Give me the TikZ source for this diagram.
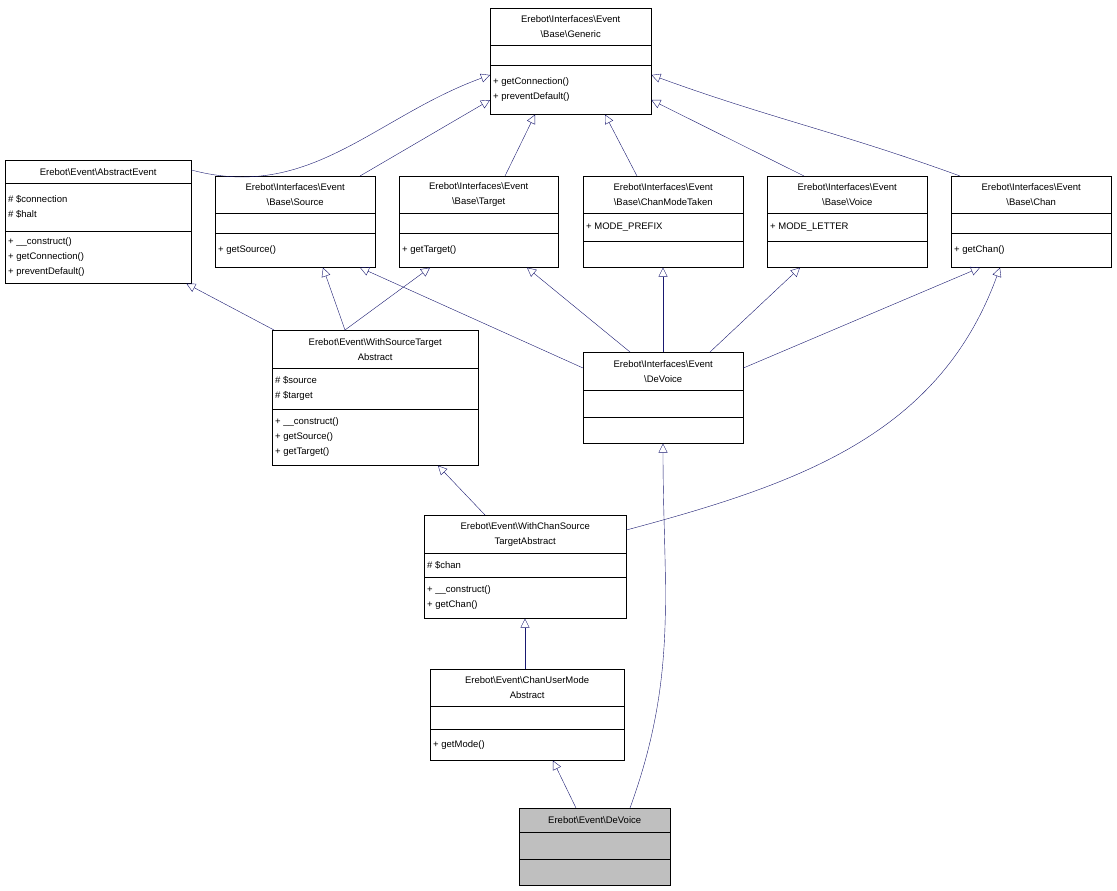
\documentclass[tikz,border=0pt]{standalone}
\usepackage{fontspec}
\setmainfont{Liberation Sans}
\usetikzlibrary{shapes.multipart,arrows.meta}
\newcommand{\bs}{\textbackslash}
\newcommand{\tpart}[3]{\parbox[c][#2pt][c]{#1pt}{\centering #3}}
\newcommand{\lpart}[3]{\parbox[c][#2pt][c]{#1pt}{\raggedright #3}}
\definecolor{edgeblue}{RGB}{25,25,112}
\begin{document}
\begin{tikzpicture}[
x=1pt,y=-1pt,
cls/.style={
  draw,
  rectangle split,
  rectangle split parts=3,
  anchor=north west,
  inner xsep=3pt,
  inner ysep=0pt,
  font=\fontsize{9.5}{15}\selectfont,
  fill=white
  },
inh/.style={
  draw=edgeblue,
  -{Triangle[open,length=9pt,width=9pt]}
  },
]
\useasboundingbox (0,0) rectangle (1117,891);

\node[cls] (gen) at (490,8)
  {\tpart{155}{37}{Erebot\bs Interfaces\bs Event\\\bs Base\bs Generic}
   \nodepart{two}\lpart{155}{19}{}
   \nodepart{three}\lpart{155}{49}{+ getConnection()\\+ preventDefault()}};
\node[cls] (abs) at (5,160)
  {\tpart{180}{23}{Erebot\bs Event\bs AbstractEvent}
   \nodepart{two}\lpart{180}{47}{\# \$connection\\\# \$halt}
   \nodepart{three}\lpart{180}{52}{+ \_\_construct()\\+ getConnection()\\+ preventDefault()}};
\node[cls] (src) at (215,176)
  {\tpart{154}{37}{Erebot\bs Interfaces\bs Event\\\bs Base\bs Source}
   \nodepart{two}\lpart{154}{19}{}
   \nodepart{three}\lpart{154}{34}{+ getSource()}};
\node[cls] (tgt) at (399,176)
  {\tpart{153}{37}{Erebot\bs Interfaces\bs Event\\\bs Base\bs Target}
   \nodepart{two}\lpart{153}{19}{}
   \nodepart{three}\lpart{153}{34}{+ getTarget()}};
\node[cls] (cmt) at (583,176)
  {\tpart{154}{37}{Erebot\bs Interfaces\bs Event\\\bs Base\bs ChanModeTaken}
   \nodepart{two}\lpart{154}{27}{+ MODE\_PREFIX}
   \nodepart{three}\lpart{154}{26}{}};
\node[cls] (voice) at (767,176)
  {\tpart{154}{37}{Erebot\bs Interfaces\bs Event\\\bs Base\bs Voice}
   \nodepart{two}\lpart{154}{27}{+ MODE\_LETTER}
   \nodepart{three}\lpart{154}{26}{}};
\node[cls] (chan) at (951,176)
  {\tpart{154}{37}{Erebot\bs Interfaces\bs Event\\\bs Base\bs Chan}
   \nodepart{two}\lpart{154}{19}{}
   \nodepart{three}\lpart{154}{34}{+ getChan()}};
\node[cls] (wst) at (272,330)
  {\tpart{200}{38}{Erebot\bs Event\bs WithSourceTarget\\Abstract}
   \nodepart{two}\lpart{200}{40}{\# \$source\\\# \$target}
   \nodepart{three}\lpart{200}{56}{+ \_\_construct()\\+ getSource()\\+ getTarget()}};
\node[cls] (idev) at (583,352)
  {\tpart{154}{38}{Erebot\bs Interfaces\bs Event\\\bs DeVoice}
   \nodepart{two}\lpart{154}{26}{}
   \nodepart{three}\lpart{154}{26}{}};
\node[cls] (wcst) at (424,515)
  {\tpart{196}{38}{Erebot\bs Event\bs WithChanSource\\TargetAbstract}
   \nodepart{two}\lpart{196}{23}{\# \$chan}
   \nodepart{three}\lpart{196}{41}{+ \_\_construct()\\+ getChan()}};
\node[cls] (cum) at (430,669)
  {\tpart{188}{37}{Erebot\bs Event\bs ChanUserMode\\Abstract}
   \nodepart{two}\lpart{188}{22}{}
   \nodepart{three}\lpart{188}{31}{+ getMode()}};
\node[cls,fill=lightgray] (dev) at (519,808)
  {\tpart{145}{24}{Erebot\bs Event\bs DeVoice}
   \nodepart{two}\lpart{145}{26}{}
   \nodepart{three}\lpart{145}{26}{}};

% interfaces of the generic event
\draw[inh] ([yshift=-10]abs.north east) to[out=-15,in=200] ([yshift=-67]gen.north west);
\draw[inh] ([xshift=145]src.north west) -- ([yshift=-92]gen.north west);
\draw[inh] ([xshift=106]tgt.north west) -- ([xshift=45]gen.south west);
\draw[inh] ([xshift=54]cmt.north west) -- ([xshift=115]gen.south west);
\draw[inh] ([xshift=37]voice.north west) -- ([yshift=-92]gen.north east);
\draw[inh] ([xshift=9]chan.north west) to[out=160,in=-20] ([yshift=-67]gen.north east);
% source/target abstract
\draw[inh] ([xshift=2]wst.north west) -- ([xshift=-5]abs.south east);
\draw[inh] ([xshift=73]wst.north west) -- ([xshift=108]src.south west);
\draw[inh] ([xshift=73]wst.north west) -- ([xshift=31]tgt.south west);
% interface devoice
\draw[inh] ([yshift=-16]idev.north west) -- ([xshift=145]src.south west);
\draw[inh] ([xshift=47]idev.north west) -- ([xshift=128]tgt.south west);
\draw[inh] ([xshift=80]idev.north west) -- ([xshift=80]cmt.south west);
\draw[inh] ([xshift=127]idev.north west) -- ([xshift=33]voice.south west);
\draw[inh] ([yshift=-16]idev.north east) -- ([xshift=29]chan.south west);
% lower chain
\draw[inh] ([xshift=61]wcst.north west) -- ([xshift=166]wst.south west);
\draw[inh] ([yshift=-15]wcst.north east) to[out=15,in=-110] ([xshift=49]chan.south west);
\draw[inh] ([xshift=95]cum.north west) -- ([xshift=101]wcst.south west);
\draw[inh] ([xshift=57]dev.north west) -- ([xshift=123]cum.south west);
\draw[inh] ([xshift=111]dev.north west) to[out=70,in=-90] ([xshift=80]idev.south west);
\end{tikzpicture}
\end{document}
